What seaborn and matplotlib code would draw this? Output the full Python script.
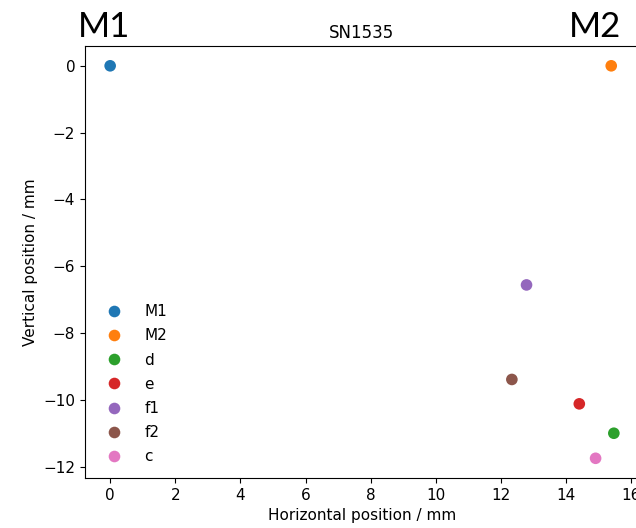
import pandas as pd
import matplotlib
matplotlib.use('Agg')
import matplotlib.pyplot as plt
import seaborn as sns

# 측정점 위치 (mm)
labels = ['M1', 'M2', 'd', 'e', 'f1', 'f2', 'c']
x_pos = [0.0, 15.38, 15.46, 14.40, 12.78, 12.33, 14.90]
y_pos = [0.0, 0.0, -11.00, -10.12, -6.56, -9.39, -11.75]

df = pd.DataFrame({'label': labels, 'x': x_pos, 'y': y_pos})

sns.set_style('ticks', {'axes.edgecolor': 'black', 'xtick.color': 'black',
                        'ytick.color': 'black', 'text.color': 'black',
                        'axes.labelcolor': 'black'})
plt.rcParams['font.family'] = ['DejaVu Sans']

fig = plt.figure(figsize=(6.36, 5.28), dpi=100)
ax = fig.add_axes([0.1336, 0.0947, 0.871, 0.818])

sns.scatterplot(data=df, x='x', y='y', hue='label', hue_order=labels,
                palette='tab10', s=70, linewidth=0, ax=ax)

ax.set_title('SN1535', fontsize=12)
ax.set_xlabel('Horizontal position / mm', fontsize=11)
ax.set_ylabel('Vertical position / mm', fontsize=11)
ax.tick_params(labelsize=11)
ax.set_xticks(range(0, 17, 2))
ax.set_yticks(range(-12, 1, 2))
ax.set_xlim(-0.773, 16.23)
ax.set_ylim(-12.34, 0.59)

ax.legend(loc='lower left', frameon=False, fontsize=11, markerscale=1.0,
          labelspacing=0.6, handletextpad=1.0, bbox_to_anchor=(0.0, 0.0))

# 큰 라벨 M1 / M2
fig.text(0.122, 0.93, 'M1', fontsize=25, family='Lato')
fig.text(0.895, 0.93, 'M2', fontsize=25, family='Lato')

fig.savefig('out.png', dpi=100)
plt.close()
